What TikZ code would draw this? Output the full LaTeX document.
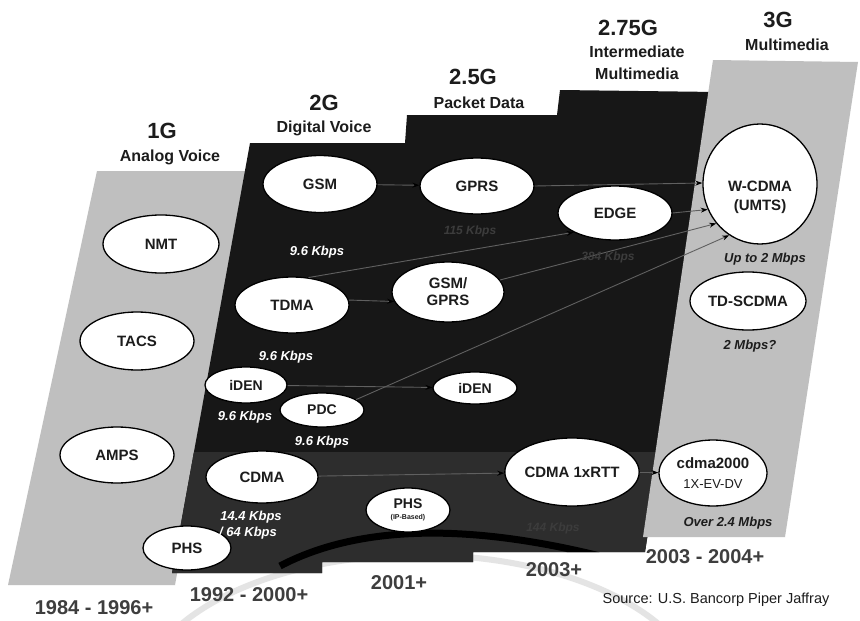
\documentclass[tikz,border=0pt]{standalone}
\usepackage{fontspec}
\setmainfont{Liberation Sans}
\usetikzlibrary{arrows.meta,shapes.geometric}
\definecolor{panelgray}{HTML}{BFBFBF}
\definecolor{darkpanel}{HTML}{171717}
\definecolor{darkband}{HTML}{2D2D2D}
\definecolor{arrowgray}{HTML}{606060}
\definecolor{inktext}{HTML}{1C1C1C}
\definecolor{faint}{HTML}{3C3C3C}
\definecolor{wmark}{HTML}{E4E4E4}
\begin{document}
\begin{tikzpicture}[x=1pt,y=-1pt,
  oval/.style={ellipse, draw=black, line width=1.3pt, fill=white, inner sep=0pt, align=center,
    font=\bfseries\fontsize{15}{17}\selectfont, text=inktext},
  ovaltext/.style={align=center, inner sep=0pt, font=\bfseries\fontsize{15}{19}\selectfont, text=inktext},
  rate/.style={inner sep=0pt, font=\bfseries\itshape\fontsize{13}{13}\selectfont, text=white},
  ratedark/.style={inner sep=0pt, font=\bfseries\itshape\fontsize{13}{13}\selectfont, text=inktext},
  faintrate/.style={inner sep=0pt, font=\bfseries\itshape\fontsize{12}{12}\selectfont, text=faint},
  gen/.style={inner sep=0pt, font=\bfseries\fontsize{22}{22}\selectfont, text=inktext},
  gensub/.style={inner sep=0pt, font=\bfseries\fontsize{16}{16}\selectfont, text=inktext},
  year/.style={inner sep=0pt, font=\bfseries\fontsize{20}{20}\selectfont, text=inktext!85!white},
  link/.style={draw=arrowgray, line width=0.9pt, -{Stealth[length=7pt,width=5pt,black]}}
]
\useasboundingbox (0,0) rectangle (860,621);
\fill[white] (0,0) rectangle (860,621);
\def\darkpath{(250,143) -- (405,143) -- (407,115) -- (557,115) -- (560,90) -- (717,92) -- (645,552) -- (473,552) -- (473,562) -- (322,562) -- (322,573) -- (172,573) -- cycle}

% watermark
\begin{scope}
  \clip (0,0) rectangle (860,621);
  \draw[wmark, line width=6pt] (420,700) ellipse [x radius=280, y radius=145];
  \foreach \a in {40,50,...,140} {
    \draw[wmark, line width=3pt, shift={(420,700)}] (\a:88) -- (\a:120);
  }
\end{scope}

% 1G panel
\fill[panelgray] (97,171) -- (250,171) -- (175,585) -- (8,585) -- cycle;
% dark panel 2G / 2.5G / 2.75G
\fill[darkpanel] \darkpath;
\begin{scope}
  \clip \darkpath;
  \fill[darkband] (0,452) rectangle (860,621);
  \draw[black, line width=7pt] (280,566) .. controls (360,524) and (470,524) .. (600,556);
\end{scope}
% 3G panel
\fill[panelgray] (713,60) -- (858,62) -- (785,537) -- (643,537) -- cycle;

% headers
\node[gen] (h1) at (162,131) {1G};
\node[gensub] (h1s) at (170,157) {Analog Voice};
\node[gen] (h2) at (324,103) {2G};
\node[gensub] (h2s) at (324,128) {Digital Voice};
\node[gen] (h25) at (473,77) {2.5G};
\node[gensub] (h25s) at (479,103) {Packet Data};
\node[gen] (h275) at (628,28) {2.75G};
\node[gensub] (h275s) at (637,52) {Intermediate};
\node[gensub] (h275t) at (637,74) {Multimedia};
\node[gen] (h3) at (778,20) {3G};
\node[gensub] (h3s) at (787,45) {Multimedia};

% ellipses
\node[oval, minimum width=116pt, minimum height=58pt] (nmt) at (161,244) {NMT};
\node[oval, minimum width=114pt, minimum height=58pt] (tacs) at (137,341) {TACS};
\node[oval, minimum width=114pt, minimum height=56pt] (amps) at (117,455) {AMPS};
\node[oval, minimum width=88pt, minimum height=44pt] (phsA) at (187,548) {PHS};
\node[oval, minimum width=114pt, minimum height=57pt] (gsm) at (320,184) {GSM};
\node[oval, minimum width=114pt, minimum height=56pt] (gprs) at (477,186) {GPRS};
\node[oval, minimum width=114pt, minimum height=54pt] (edge) at (615,213) {EDGE};
\node[oval, minimum width=112pt, minimum height=60pt] (gsmgprs) at (448,292) {GSM/\\GPRS};
\node[oval, minimum width=114pt, minimum height=56pt] (tdma) at (292,305) {TDMA};
\node[oval, minimum width=82pt, minimum height=36pt, font=\bfseries\fontsize{14}{14}\selectfont] (idenA) at (246,385) {iDEN};
\node[oval, minimum width=84pt, minimum height=34pt, font=\bfseries\fontsize{14}{14}\selectfont] (pdc) at (322,410) {PDC};
\node[oval, minimum width=84pt, minimum height=32pt, font=\bfseries\fontsize{14}{14}\selectfont] (idenB) at (475,388) {iDEN};
\node[oval, minimum width=112pt, minimum height=52pt] (cdma) at (262,477) {CDMA};
\node[oval, minimum width=84pt, minimum height=44pt, font=\bfseries\fontsize{14}{11}\selectfont] (phsB) at (408,510) {PHS\\{\fontsize{7}{7}\selectfont (IP-Based)}};
\node[oval, minimum width=130pt, minimum height=68pt] (rtt) at (572,472) {CDMA 1xRTT};
\node[oval, minimum width=108pt, minimum height=66pt, font=\bfseries\fontsize{15}{20}\selectfont] (cdmatwo) at (713,473) {cdma2000\\{\mdseries\fontsize{13}{13}\selectfont 1X-EV-DV}};
\node[oval, minimum width=114pt, minimum height=120pt] (wcdma) at (760,184) {};
\node[ovaltext] (wcdmatext) at (760,197) {W-CDMA\\(UMTS)};
\node[oval, minimum width=116pt, minimum height=58pt] (tdscdma) at (748,301) {TD-SCDMA};

% connectors
\draw[link] (gsm) -- (gprs);
\draw[link] (gprs.east) -- (wcdma.179);
\draw[link] (edge.east) -- (wcdma.206);
\draw[link] (tdma.5) -- (gsmgprs.190);
\draw[link] (tdma.59) -- (edge.205);
\draw[link] (gsmgprs.13) -- (wcdma.222);
\draw[link] (pdc.17) -- (wcdma.239);
\draw[link] (idenA) -- (idenB);
\draw[link] (cdma) -- (rtt);
\draw[link] (rtt) -- (cdmatwo);

% rates
\node[rate] (r1) at (317,252) {9.6 Kbps};
\node[rate] (r2) at (286,357) {9.6 Kbps};
\node[rate] (r3) at (245,417) {9.6 Kbps};
\node[rate] (r4) at (322,442) {9.6 Kbps};
\node[rate] (r5) at (251,517) {14.4 Kbps};
\node[rate] (r6) at (248,533) {/ 64 Kbps};
\node[ratedark] (r7) at (765,259) {Up to 2 Mbps};
\node[ratedark] (r8) at (750,346) {2 Mbps?};
\node[ratedark] (r9) at (728,523) {Over 2.4 Mbps};
\node[faintrate] (f1) at (470,231) {115 Kbps};
\node[faintrate] (f2) at (608,257) {384 Kbps};
\node[faintrate] (f3) at (553,528) {144 Kbps};

% years
\node[year] (y1) at (94,608) {1984 - 1996+};
\node[year] (y2) at (249,595) {1992 - 2000+};
\node[year] (y3) at (399,583) {2001+};
\node[year] (y4) at (554,570) {2003+};
\node[year] (y5) at (705,557) {2003 - 2004+};
\node[inner sep=0pt, font=\fontsize{14.5}{14.5}\selectfont, text=inktext] (src) at (716,600) {Source: U.S. Bancorp Piper Jaffray};
\end{tikzpicture}
\end{document}
